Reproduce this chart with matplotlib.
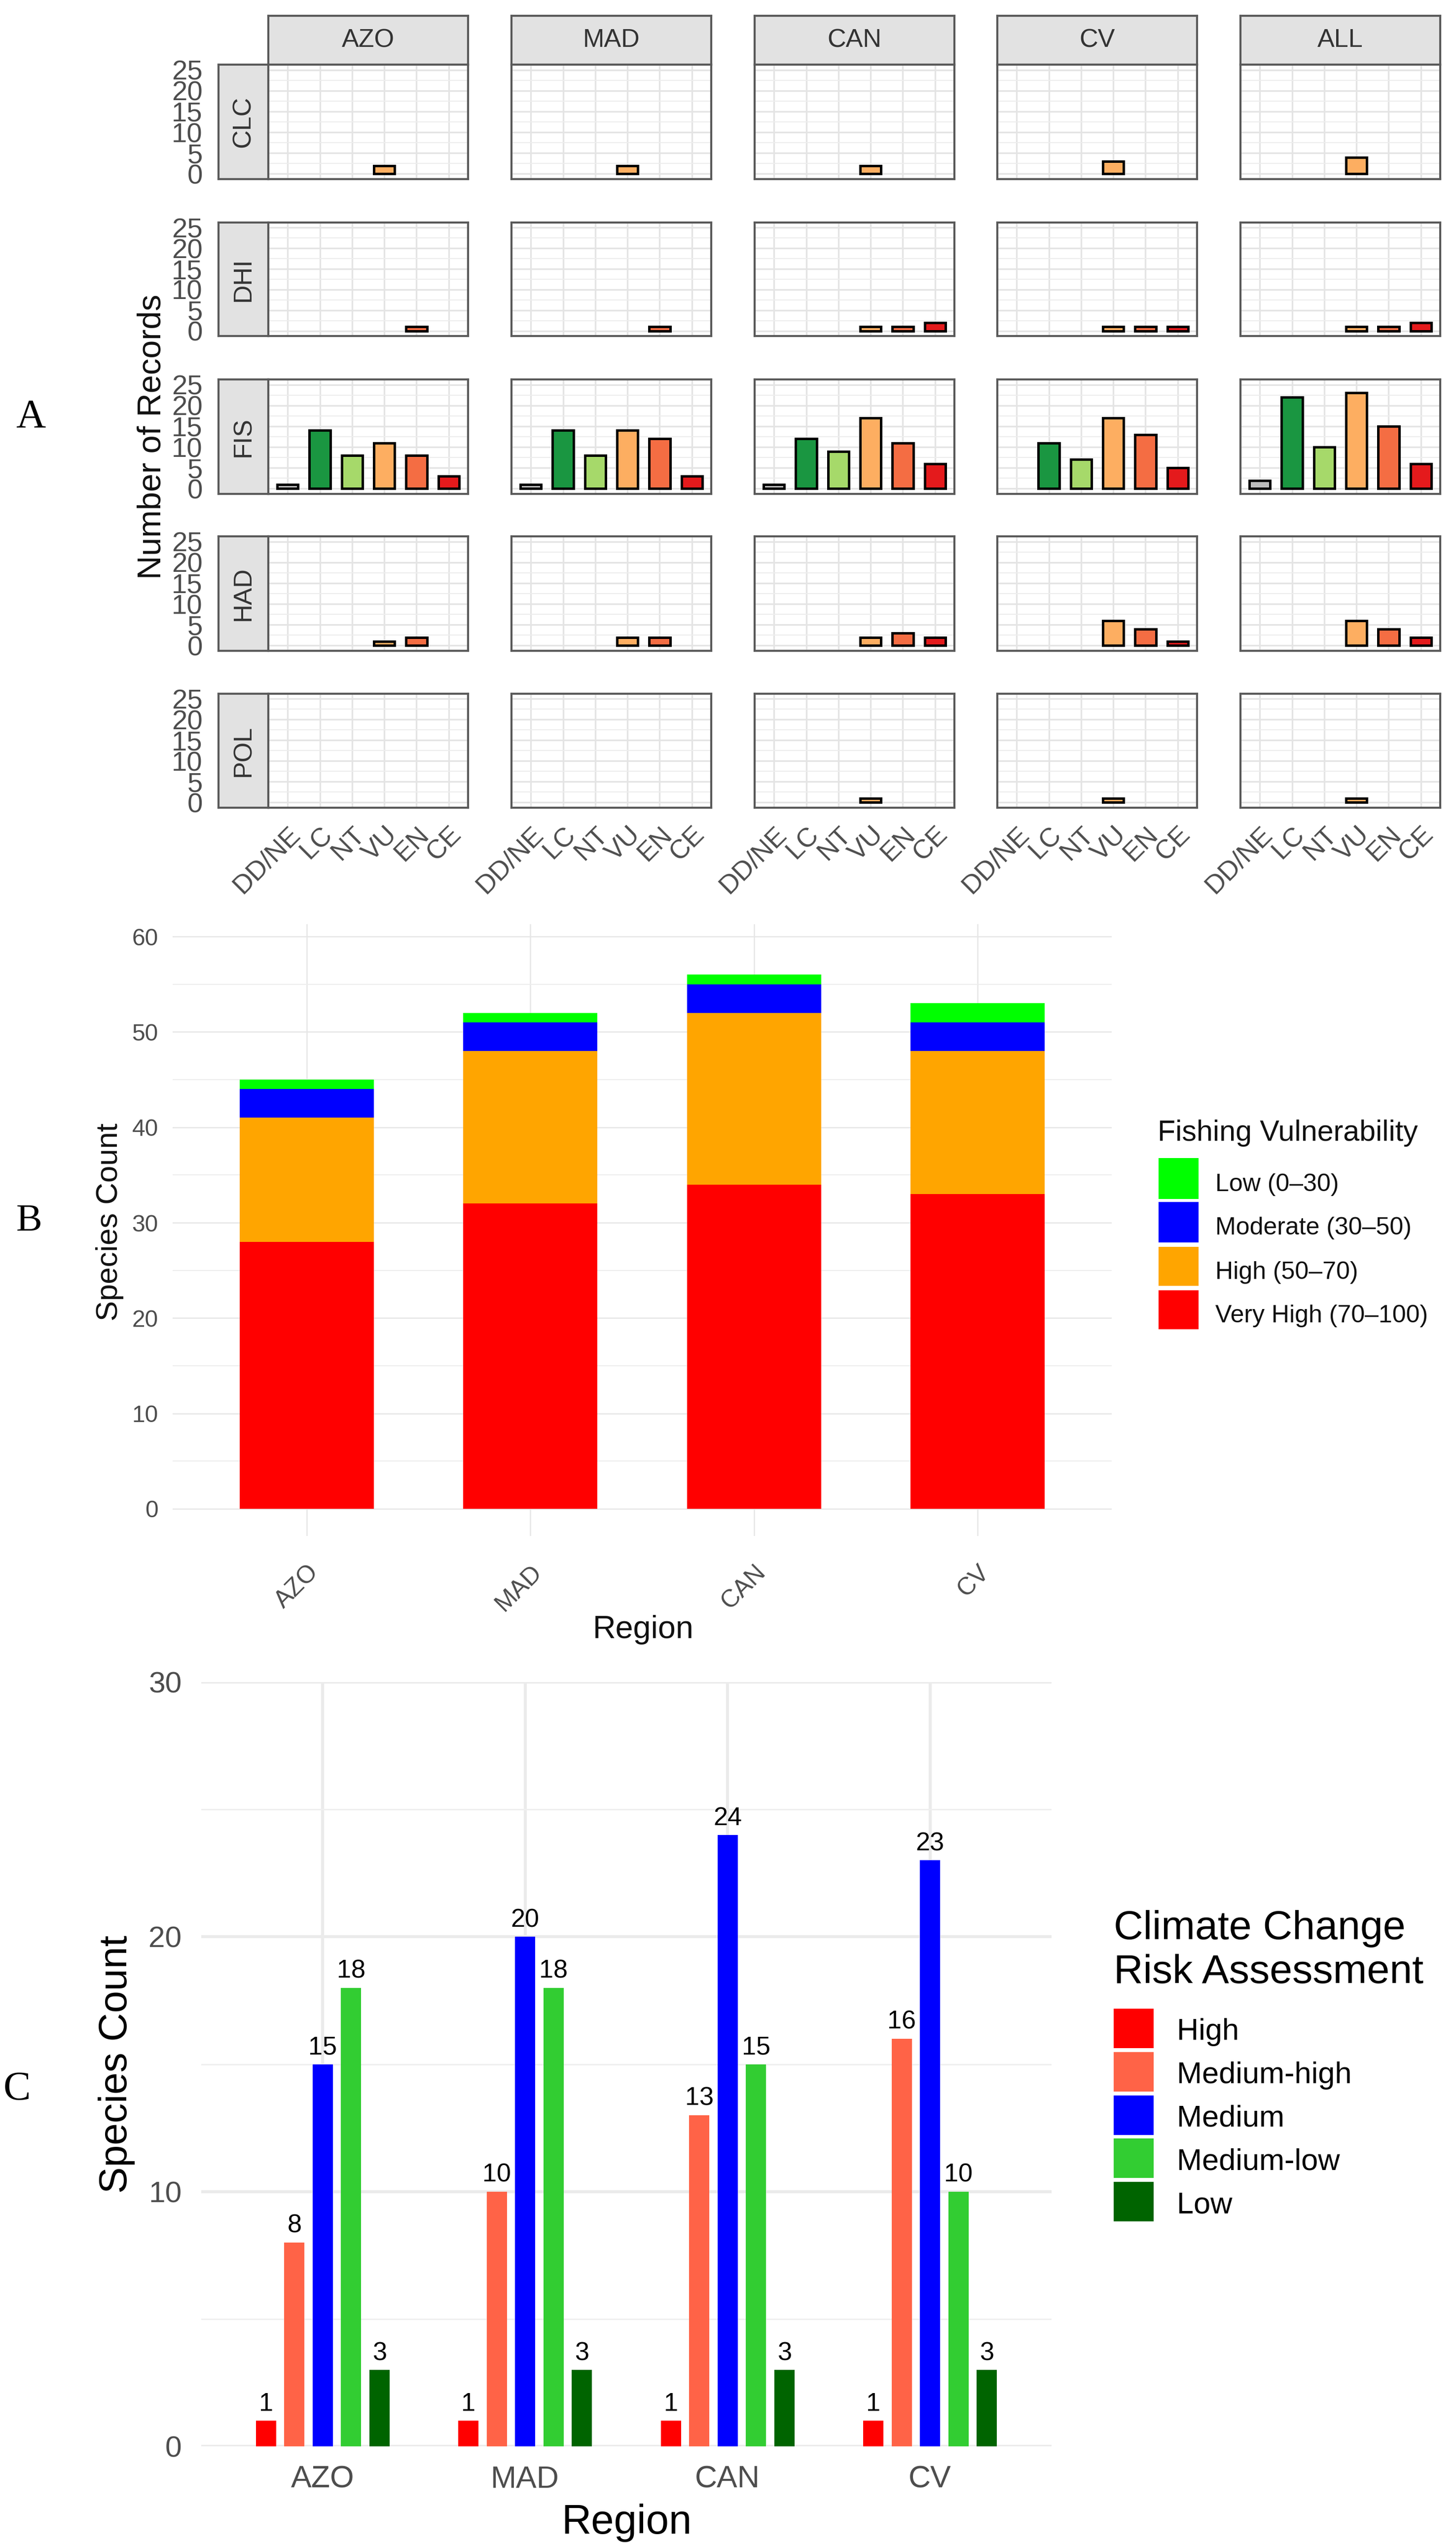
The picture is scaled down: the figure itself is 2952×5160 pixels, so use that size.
import numpy as np
import matplotlib
matplotlib.use("Agg")
import matplotlib.pyplot as plt
from matplotlib.patches import Rectangle

plt.rcParams["font.family"] = ["Liberation Sans", "DejaVu Sans"]

W, H = 2952, 5160
DPI = 300

# ---------- data, panel A ----------
regions_a = ["AZO", "MAD", "CAN", "CV", "ALL"]
threats = ["CLC", "DHI", "FIS", "HAD", "POL"]
iucn = ["DD/NE", "LC", "NT", "VU", "EN", "CE"]
iucn_colors = ["#BDBDBD", "#1A9641", "#A6D96A", "#FDAE61", "#F46D43", "#E41A1C"]

# one row per region, in the order of regions_a
clc = [[0, 0, 0, 2, 0, 0],
       [0, 0, 0, 2, 0, 0],
       [0, 0, 0, 2, 0, 0],
       [0, 0, 0, 3, 0, 0],
       [0, 0, 0, 4, 0, 0]]
dhi = [[0, 0, 0, 0, 1, 0],
       [0, 0, 0, 0, 1, 0],
       [0, 0, 0, 1, 1, 2],
       [0, 0, 0, 1, 1, 1],
       [0, 0, 0, 1, 1, 2]]
fis = [[1, 14, 8, 11, 8, 3],
       [1, 14, 8, 14, 12, 3],
       [1, 12, 9, 17, 11, 6],
       [0, 11, 7, 17, 13, 5],
       [2, 22, 10, 23, 15, 6]]
had = [[0, 0, 0, 1, 2, 0],
       [0, 0, 0, 2, 2, 0],
       [0, 0, 0, 2, 3, 2],
       [0, 0, 0, 6, 4, 1],
       [0, 0, 0, 6, 4, 2]]
pol = [[0, 0, 0, 0, 0, 0],
       [0, 0, 0, 0, 0, 0],
       [0, 0, 0, 1, 0, 0],
       [0, 0, 0, 1, 0, 0],
       [0, 0, 0, 1, 0, 0]]
records = [clc, dhi, fis, had, pol]
a_ticks = [0, 5, 10, 15, 20, 25]
a_minor = [2.5, 7.5, 12.5, 17.5, 22.5]

# ---------- data, panel B ----------
regions = ["AZO", "MAD", "CAN", "CV"]
fishing_very_high = [28, 32, 34, 33]
fishing_high = [13, 16, 18, 15]
fishing_moderate = [3, 3, 3, 3]
fishing_low = [1, 1, 1, 2]
fishing_labels = ["Low (0–30)", "Moderate (30–50)", "High (50–70)", "Very High (70–100)"]
fishing_colors = ["#00FF00", "#0000FF", "#FFA500", "#FF0000"]

# ---------- data, panel C ----------
climate_labels = ["High", "Medium-high", "Medium", "Medium-low", "Low"]
climate_colors = ["#FF0000", "#FF6347", "#0000FF", "#32CD32", "#006400"]
climate_high = [1, 1, 1, 1]
climate_medium_high = [8, 10, 13, 16]
climate_medium = [15, 20, 24, 23]
climate_medium_low = [18, 18, 15, 10]
climate_low = [3, 3, 3, 3]
climate = [climate_high, climate_medium_high, climate_medium, climate_medium_low, climate_low]

fig = plt.figure(figsize=(W / DPI, H / DPI), dpi=DPI, facecolor="white")


def px_axes(x0, y0, x1, y1):
    # pixel box measured from the top left of the picture
    return fig.add_axes([x0 / W, 1 - y1 / H, (x1 - x0) / W, (y1 - y0) / H])


def px_text(x, y, s, **kw):
    return fig.text(x / W, 1 - y / H, s, **kw)


def px_key(x0, y0, x1, y1, color):
    fig.add_artist(Rectangle((x0 / W, 1 - y1 / H), (x1 - x0) / W, (y1 - y0) / H,
                             transform=fig.transFigure, facecolor=color, edgecolor="none"))


def strip_box(x0, y0, x1, y1, label, rotation=0):
    s = px_axes(x0, y0, x1, y1)
    s.set_facecolor("#E2E2E2")
    s.set_xticks([])
    s.set_yticks([])
    for sp in s.spines.values():
        sp.set_color(BORDER)
        sp.set_linewidth(1.0)
    s.text(0.5, 0.5, label, transform=s.transAxes, ha="center", va="center",
           rotation=rotation, fontsize=12.5, color="#333333")


# ---------- panel A ----------
BORDER = "#5A5A5A"
col_x = [544, 1037, 1530, 2022, 2515]
col_w = 405
row_y = [(131, 363), (451, 681), (769, 1001), (1087, 1319), (1406, 1637)]

for j, region in enumerate(regions_a):
    strip_box(col_x[j], 32, col_x[j] + col_w, 131, region)

for i, threat in enumerate(threats):
    top, bottom = row_y[i]
    strip_box(443, top, 544, bottom, threat, rotation=90)
    for j, region in enumerate(regions_a):
        ax = px_axes(col_x[j], top, col_x[j] + col_w, bottom)
        # empty classes get no bar at all, so no outline either
        vals = records[i][j]
        keep = [k for k in range(6) if vals[k] > 0]
        ax.bar(keep, [vals[k] for k in keep], width=0.65,
               color=[iucn_colors[k] for k in keep],
               edgecolor="black", linewidth=1.2, zorder=3)
        ax.set_xlim(-0.6, 5.6)
        ax.set_ylim(-1.25, 26.25)
        ax.set_yticks(a_ticks)
        ax.set_yticks(a_minor, minor=True)
        ax.set_xticks(range(6))
        ax.grid(True, which="major", color="#E4E4E4", linewidth=0.8)
        ax.grid(True, which="minor", axis="y", color="#EDEDED", linewidth=0.5)
        ax.set_axisbelow(True)
        ax.tick_params(which="both", length=0)
        if j == 0:
            ax.tick_params(axis="y", which="major", labelsize=13.5, labelcolor="#4D4D4D", pad=32)
        else:
            ax.tick_params(axis="y", labelleft=False)
        if i == len(threats) - 1:
            ax.set_xticklabels(iucn, rotation=45, ha="right", rotation_mode="anchor",
                               fontsize=13, color="#4D4D4D")
            ax.tick_params(axis="x", pad=7)
        else:
            ax.tick_params(axis="x", labelbottom=False)
        for sp in ax.spines.values():
            sp.set_color(BORDER)
            sp.set_linewidth(1.0)

px_text(308, 885, "Number of Records", rotation=90, ha="center", va="center",
        fontsize=16, color="#111111")
px_text(32, 865, "A", family="Liberation Serif", fontsize=20, va="baseline")

# ---------- panel B ----------
ax_b = px_axes(350, 1873, 2254, 3113)
xpos = np.arange(len(regions))
bottom = np.zeros(len(regions))
stack = [fishing_very_high, fishing_high, fishing_moderate, fishing_low]
stack_colors = fishing_colors[::-1]
for vals, color in zip(stack, stack_colors):
    ax_b.bar(xpos, vals, width=0.6, bottom=bottom, color=color, zorder=3)
    bottom = bottom + np.array(vals)
ax_b.set_xlim(-0.6, 3.6)
ax_b.set_ylim(-2.85, 61.3)
ax_b.set_yticks([0, 10, 20, 30, 40, 50, 60])
ax_b.set_yticks([5, 15, 25, 35, 45, 55], minor=True)
ax_b.set_xticks(xpos)
ax_b.set_xticklabels(regions, rotation=45, ha="right", rotation_mode="anchor",
                     fontsize=12, color="#4D4D4D")
ax_b.grid(True, which="major", color="#E6E6E6", linewidth=0.6)
ax_b.grid(True, which="minor", axis="y", color="#EDEDED", linewidth=0.5)
ax_b.set_axisbelow(True)
ax_b.tick_params(which="both", length=0)
ax_b.tick_params(axis="y", labelsize=11.5, labelcolor="#4D4D4D", pad=7)
ax_b.tick_params(axis="x", pad=12)
for sp in ax_b.spines.values():
    sp.set_visible(False)

px_text(223, 2477, "Species Count", rotation=90, ha="center", va="center", fontsize=14.8, color="#111111")
px_text(1304, 3320, "Region", ha="center", va="baseline", fontsize=15.5, color="#111111")
px_text(33, 2494, "B", family="Liberation Serif", fontsize=19, va="baseline")

px_text(2347, 2312, "Fishing Vulnerability", fontsize=14.2, va="baseline", color="#111111")
b_keys = [(2347, 2430), (2436, 2518), (2527, 2606), (2615, 2694)]
for (k0, k1), label, color in zip(b_keys, fishing_labels, fishing_colors):
    px_key(2349, k0, 2430, k1, color)
    px_text(2464, (k0 + k1) / 2 + 25, label, fontsize=12, va="baseline", color="#111111")

# ---------- panel C ----------
ax_c = px_axes(408, 3409, 2132, 4958)
offset = 0.14
for k, (vals, color) in enumerate(zip(climate, climate_colors)):
    xs = xpos + (k - 2) * offset
    ax_c.bar(xs, vals, width=0.1, color=color, zorder=3)
    for x, v in zip(xs, vals):
        ax_c.annotate(str(v), (x, v), xytext=(0, 4.8), textcoords="offset points",
                      ha="center", va="baseline", fontsize=12.5, color="black")
ax_c.set_xlim(-0.6, 3.6)
ax_c.set_ylim(0, 30)
ax_c.set_yticks([0, 10, 20, 30])
ax_c.set_yticks([5, 15, 25], minor=True)
ax_c.set_xticks(xpos)
ax_c.set_xticklabels(regions, fontsize=15, color="#4D4D4D")
ax_c.grid(True, which="major", color="#EBEBEB", linewidth=1.5)
ax_c.grid(True, which="minor", axis="y", color="#EFEFEF", linewidth=0.7)
ax_c.set_axisbelow(True)
ax_c.tick_params(which="both", length=0)
ax_c.tick_params(axis="y", labelsize=14.5, labelcolor="#4D4D4D", pad=9.5)
ax_c.tick_params(axis="x", pad=9)
for sp in ax_c.spines.values():
    sp.set_visible(False)

px_text(237, 4184, "Species Count", rotation=90, ha="center", va="center", fontsize=19.3)
px_text(1270, 5135, "Region", ha="center", va="baseline", fontsize=20)
px_text(7, 4255, "C", family="Liberation Serif", fontsize=20, va="baseline")

px_text(2258, 3930, "Climate Change", fontsize=19.8, va="baseline")
px_text(2258, 4019, "Risk Assessment", fontsize=19.8, va="baseline")
c_keys = [(4071, 4151), (4159, 4239), (4247, 4327), (4334, 4414), (4422, 4502)]
for (k0, k1), label, color in zip(c_keys, climate_labels, climate_colors):
    px_key(2258, k0, 2339, k1, color)
    px_text(2386, (k0 + k1) / 2 + 23, label, fontsize=14.7, va="baseline")

fig.savefig("out.png", dpi=DPI)
